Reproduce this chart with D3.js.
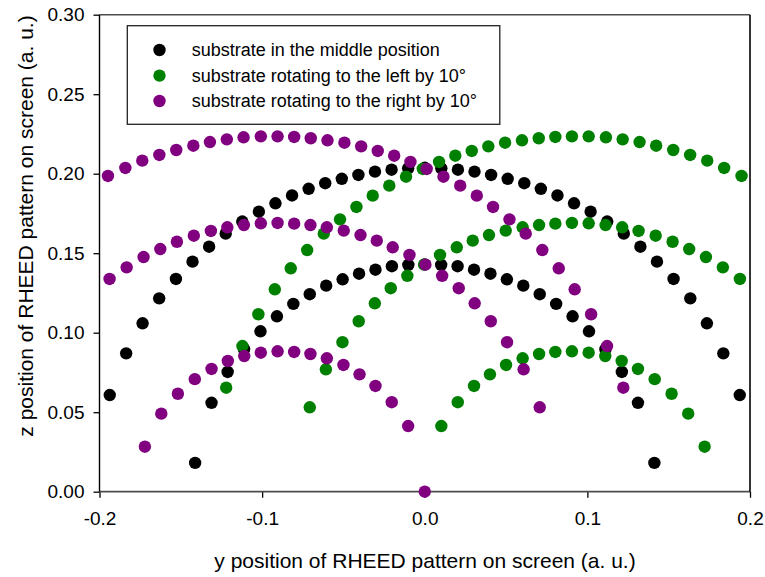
<!DOCTYPE html>
<html>
<head>
<meta charset="utf-8">
<script src="https://cdn.jsdelivr.net/npm/d3@7"></script>
<style>
  html, body { margin: 0; padding: 0; background: #fff; }
  svg { display: block; }
  text { font-family: "Liberation Sans", Arial, sans-serif; fill: #000; }
</style>
</head>
<body>
<svg id="chart" width="765" height="577"></svg>
<script>
// ---------- data ----------
const seriesNames = [
  "substrate in the middle position",
  "substrate rotating to the left by 10°",
  "substrate rotating to the right by 10°"
];
const seriesColors = ["#000000", "#008000", "#800080"];

const xTicks = [-0.2, -0.1, 0.0, 0.1, 0.2];
const yTicks = [0.00, 0.05, 0.10, 0.15, 0.20, 0.25, 0.30];

// black: substrate in the middle position (outer arc + inner arc)
const middleX = [
  -0.1937,-0.1836,-0.1735,-0.1633,-0.1530,-0.1428,-0.1326,-0.1224,-0.1122,-0.1020,
  -0.0918,-0.0816,-0.0714,-0.0612,-0.0510,-0.0408,-0.0306,-0.0204,-0.0102,0.0000,
  0.0102,0.0204,0.0306,0.0408,0.0510,0.0612,0.0714,0.0816,0.0918,0.1020,
  0.1122,0.1224,0.1326,0.1428,0.1530,0.1633,0.1735,0.1836,0.1937,
  -0.1412,-0.1311,-0.1212,-0.1111,-0.1010,-0.0909,-0.0808,-0.0707,-0.0606,-0.0505,
  -0.0404,-0.0303,-0.0202,-0.0101,0.0000,0.0101,0.0202,0.0303,0.0404,0.0505,
  0.0606,0.0707,0.0808,0.0909,0.1010,0.1111,0.1212,0.1311,0.1412
];
const middleY = [
  0.0608,0.0870,0.1059,0.1216,0.1338,0.1447,0.1541,0.1623,0.1699,0.1761,
  0.1814,0.1863,0.1905,0.1940,0.1968,0.1992,0.2013,0.2025,0.2034,0.2037,
  0.2034,0.2025,0.2013,0.1992,0.1968,0.1940,0.1905,0.1863,0.1814,0.1761,
  0.1699,0.1623,0.1541,0.1447,0.1338,0.1216,0.1059,0.0870,0.0608,
  0.0181,0.0559,0.0753,0.0896,0.1009,0.1103,0.1181,0.1242,0.1296,0.1336,
  0.1371,0.1396,0.1418,0.1427,0.1429,0.1427,0.1418,0.1396,0.1371,0.1336,
  0.1296,0.1242,0.1181,0.1103,0.1009,0.0896,0.0753,0.0559,0.0181
];

// purple: substrate rotating to the right by 10° (top, middle, bottom arcs)
const rightX = [
  -0.1948,-0.1841,-0.1737,-0.1632,-0.1528,-0.1423,-0.1321,-0.1217,-0.1114,-0.1008,
  -0.0905,-0.0803,-0.0701,-0.0598,-0.0494,-0.0391,-0.0289,-0.0188,-0.0088,0.0012,
  0.0115,0.0218,0.0320,0.0420,0.0521,0.0621,0.0723,0.0824,0.0922,0.1023,
  0.1121,0.1221,
  -0.1938,-0.1833,-0.1729,-0.1626,-0.1524,-0.1420,-0.1315,-0.1214,-0.1112,-0.1008,
  -0.0905,-0.0803,-0.0703,-0.0602,-0.0498,-0.0395,-0.0295,-0.0197,-0.0094,0.0004,
  0.0107,0.0209,0.0307,0.0406,0.0506,0.0608,0.0707,
  -0.1721,-0.1620,-0.1518,-0.1414,-0.1311,-0.1211,-0.1110,-0.1008,-0.0905,-0.0803,
  -0.0703,-0.0602,-0.0500,-0.0401,-0.0303,-0.0203,-0.0102,0.0000
];
const rightY = [
  0.1986,0.2036,0.2082,0.2118,0.2149,0.2176,0.2199,0.2216,0.2229,0.2235,
  0.2235,0.2231,0.2223,0.2210,0.2195,0.2172,0.2143,0.2113,0.2074,0.2030,
  0.1981,0.1925,0.1862,0.1791,0.1713,0.1623,0.1520,0.1405,0.1273,0.1116,
  0.0916,0.0654,
  0.1338,0.1411,0.1476,0.1526,0.1572,0.1610,0.1640,0.1663,0.1677,0.1688,
  0.1690,0.1686,0.1677,0.1663,0.1642,0.1614,0.1579,0.1537,0.1489,0.1428,
  0.1358,0.1280,0.1185,0.1072,0.0940,0.0770,0.0531,
  0.0283,0.0491,0.0616,0.0708,0.0772,0.0822,0.0853,0.0874,0.0883,0.0879,
  0.0866,0.0839,0.0797,0.0738,0.0665,0.0563,0.0413,0.0000
];

// green: substrate rotating to the left by 10° (top, middle, bottom arcs)
const leftX = [
  0.1948,0.1841,0.1737,0.1632,0.1528,0.1423,0.1321,0.1217,0.1114,0.1008,
  0.0905,0.0803,0.0701,0.0598,0.0494,0.0391,0.0289,0.0188,0.0088,-0.0012,
  -0.0115,-0.0218,-0.0320,-0.0420,-0.0521,-0.0621,-0.0723,-0.0824,-0.0922,-0.1023,
  -0.1121,-0.1221,
  0.1938,0.1833,0.1729,0.1626,0.1524,0.1420,0.1315,0.1214,0.1112,0.1008,
  0.0905,0.0803,0.0703,0.0602,0.0498,0.0395,0.0295,0.0197,0.0094,-0.0004,
  -0.0107,-0.0209,-0.0307,-0.0406,-0.0506,-0.0608,-0.0707,
  0.1721,0.1620,0.1518,0.1414,0.1311,0.1211,0.1110,0.1008,0.0905,0.0803,
  0.0703,0.0602,0.0500,0.0401,0.0303,0.0203,0.0102
];
const leftY = [
  0.1986,0.2036,0.2082,0.2118,0.2149,0.2176,0.2199,0.2216,0.2229,0.2235,
  0.2235,0.2231,0.2223,0.2210,0.2195,0.2172,0.2143,0.2113,0.2074,0.2030,
  0.1981,0.1925,0.1862,0.1791,0.1713,0.1623,0.1520,0.1405,0.1273,0.1116,
  0.0916,0.0654,
  0.1338,0.1411,0.1476,0.1526,0.1572,0.1610,0.1640,0.1663,0.1677,0.1688,
  0.1690,0.1686,0.1677,0.1663,0.1642,0.1614,0.1579,0.1537,0.1489,0.1428,
  0.1358,0.1280,0.1185,0.1072,0.0940,0.0770,0.0531,
  0.0283,0.0491,0.0616,0.0708,0.0772,0.0822,0.0853,0.0874,0.0883,0.0879,
  0.0866,0.0839,0.0797,0.0738,0.0665,0.0563,0.0413
];

// ---------- chart ----------
const svg = d3.select("#chart");
const plot = { left: 99.5, right: 750, top: 14.7, bottom: 491.7 };

const x = d3.scaleLinear().domain([-0.2, 0.2]).range([plot.left, plot.right]);
const y = d3.scaleLinear().domain([0, 0.30]).range([plot.bottom, plot.top]);

// axes
const xAxis = d3.axisBottom(x).tickValues(xTicks).tickSize(6).tickSizeOuter(0)
  .tickPadding(14).tickFormat(d => d.toFixed(1));
const yAxis = d3.axisLeft(y).tickValues(yTicks).tickSize(6).tickSizeOuter(0)
  .tickPadding(9).tickFormat(d => d.toFixed(2));

const gx = svg.append("g").attr("transform", `translate(0,${plot.bottom})`).call(xAxis);
const gy = svg.append("g").attr("transform", `translate(${plot.left},0)`).call(yAxis);
[gx, gy].forEach(g => {
  g.select(".domain").remove();
  g.selectAll(".tick line").attr("stroke", "#000").attr("stroke-width", 1.3);
  g.selectAll(".tick text").attr("font-family", "Liberation Sans, Arial, sans-serif")
    .attr("font-size", 19).attr("fill", "#000");
});

// frame
svg.append("line").attr("x1", plot.left).attr("x2", plot.right)
  .attr("y1", plot.top).attr("y2", plot.top).attr("stroke", "#4d4d4d").attr("stroke-width", 1.6);
svg.append("line").attr("x1", plot.left).attr("x2", plot.right)
  .attr("y1", plot.bottom).attr("y2", plot.bottom).attr("stroke", "#4d4d4d").attr("stroke-width", 1.8);
svg.append("line").attr("x1", plot.left).attr("x2", plot.left)
  .attr("y1", plot.top).attr("y2", plot.bottom).attr("stroke", "#000").attr("stroke-width", 1.4);
svg.append("line").attr("x1", plot.right).attr("x2", plot.right)
  .attr("y1", plot.top).attr("y2", plot.bottom).attr("stroke", "#000").attr("stroke-width", 1.6);

// points (black, then green, then purple on top)
const series = [
  { xs: middleX, ys: middleY, color: seriesColors[0] },
  { xs: leftX, ys: leftY, color: seriesColors[1] },
  { xs: rightX, ys: rightY, color: seriesColors[2] }
];
series.forEach(s => {
  const pts = s.xs.map((v, i) => [v, s.ys[i]]);
  svg.append("g").selectAll("circle").data(pts).join("circle")
    .attr("cx", d => x(d[0])).attr("cy", d => y(d[1]))
    .attr("r", 6.2).attr("fill", s.color);
});

// legend
const lg = svg.append("g");
lg.append("rect").attr("x", 127.3).attr("y", 25.7).attr("width", 372.5).attr("height", 98.6)
  .attr("fill", "#fff").attr("stroke", "#222").attr("stroke-width", 1.3);
const rowsY = [50, 75.6, 101];
seriesNames.forEach((name, i) => {
  lg.append("circle").attr("cx", 159.5).attr("cy", rowsY[i]).attr("r", 6.2).attr("fill", seriesColors[i]);
  lg.append("text").attr("x", 191.7).attr("y", rowsY[i]).attr("dy", "0.35em")
    .attr("font-size", 18).text(name);
});

// axis titles
svg.append("text").attr("x", 425).attr("y", 561).attr("dy", "0.35em")
  .attr("text-anchor", "middle").attr("font-size", 21)
  .text("y position of RHEED pattern on screen (a. u.)");
svg.append("text").attr("transform", "translate(26,226) rotate(-90)")
  .attr("dy", "0.35em").attr("text-anchor", "middle").attr("font-size", 21)
  .text("z position of RHEED pattern on screen (a. u.)");
</script>
</body>
</html>
